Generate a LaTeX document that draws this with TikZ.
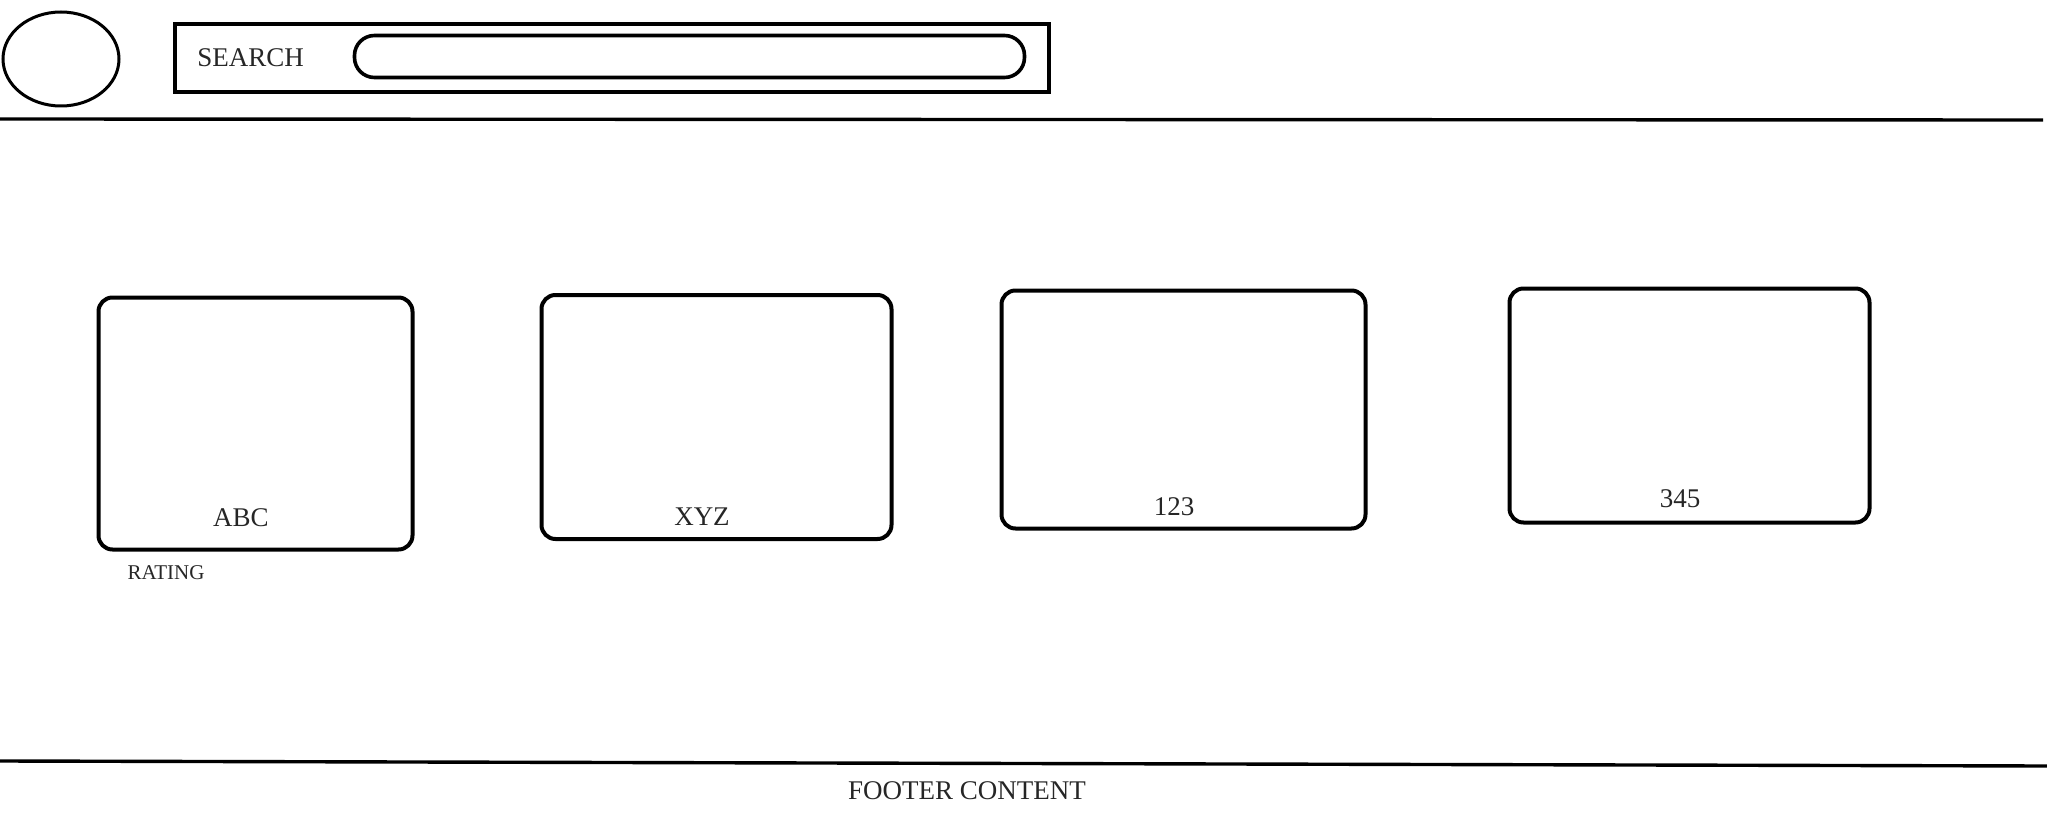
\documentclass[tikz,border=0pt]{standalone}
\usepackage{fontspec}
\setmainfont{Liberation Serif}
\usetikzlibrary{shapes.geometric}
\begin{document}
\begin{tikzpicture}[x=0.5pt,y=-0.5pt,
  card/.style={draw,line width=2pt,rounded corners=7pt,rectangle,inner sep=0pt},
  lbl/.style={inner sep=0pt,font=\fontsize{13.5}{16}\selectfont,text=black!85},
  rule/.style={line width=1.7pt}]
\useasboundingbox (0,0) rectangle (2047,824);
% header
\node[draw,ellipse,line width=1.5pt,minimum width=58pt,minimum height=47pt,inner sep=0pt] (logo) at (61,59) {};
\node[draw,rectangle,line width=1.6pt,minimum width=437pt,minimum height=34pt,inner sep=0pt] (searchbox) at (612,58) {};
\node[lbl,anchor=west] (searchlbl) at (197,58) {SEARCH};
\node[draw,rectangle,rounded corners=10pt,line width=1.8pt,minimum width=335pt,minimum height=21pt,inner sep=0pt] (input) at (689.5,56.5) {};
\coordinate (hl) at (0,119);
\coordinate (hr) at (2043,120);
\draw[rule] (hl) -- (hr);
% cards
\node[card,minimum width=157pt,minimum height=126pt] (c1) at (255.5,423.5) {};
\node[card,minimum width=175pt,minimum height=122pt] (c2) at (716.5,417) {};
\node[card,minimum width=182pt,minimum height=119pt] (c3) at (1183.5,409.5) {};
\node[card,minimum width=180pt,minimum height=117pt] (c4) at (1689.5,405.5) {};
\node[lbl] (l1) at (241,518) {ABC};
\node[lbl] (l2) at (702,517) {XYZ};
\node[lbl] (l3) at (1174,507) {123};
\node[lbl] (l4) at (1680,499) {345};
\node[lbl,font=\fontsize{10.5}{12}\selectfont] (rating) at (166,573) {RATING};
% footer
\coordinate (fl) at (0,761);
\coordinate (fr) at (2047,766);
\draw[rule] (fl) -- (fr);
\node[lbl] (footer) at (967,791) {FOOTER CONTENT};
\end{tikzpicture}
\end{document}
